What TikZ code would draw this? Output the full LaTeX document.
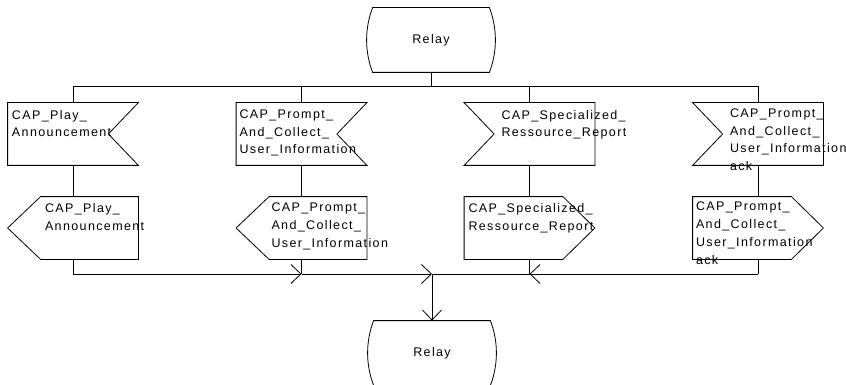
\documentclass[tikz,border=0pt]{standalone}
\usepackage{fontspec}
\setmainfont{Liberation Sans}[LetterSpace=11]
\usetikzlibrary{arrows.meta,calc}
\begin{document}
\begin{tikzpicture}[x=1pt,y=-1pt,line width=0.8pt,
  lbl/.style={anchor=north west,inner sep=0pt,align=left,font=\fontsize{12.5}{17.8}\selectfont},
  sigbox/.style={rectangle,draw=none,inner sep=0pt,minimum width=130pt,minimum height=62pt},
  statebox/.style={rectangle,draw=none,inner sep=0pt,minimum width=116pt,minimum height=64pt,font=\fontsize{12.5}{14}\selectfont},
  flow/.style={-{Straight Barb[length=10pt,width=19pt,line width=0.8pt]}}]
\useasboundingbox (0,0) rectangle (846,385);

% states
\node[statebox] (s1) at (431,40) {Relay};
\node[statebox] (s2) at (432,353) {Relay};
\foreach \s in {s1,s2}{
  \draw (\s.north west) -- (\s.north east)
    .. controls ($(\s.north east)+(8,21)$) and ($(\s.south east)+(8,-21)$) .. (\s.south east)
    -- (\s.south west)
    .. controls ($(\s.south west)+(-8,-21)$) and ($(\s.north west)+(-8,21)$) .. (\s.north west) -- cycle;
}

% signal boxes
\node[sigbox] (in1) at (73,134) {};
\node[sigbox] (in2) at (301.5,134) {};
\node[sigbox] (in3) at (529.5,134) {};
\node[sigbox] (in4) at (758,134) {};
\node[sigbox] (out1) at (73,228) {};
\node[sigbox] (out2) at (301.5,228) {};
\node[sigbox] (out3) at (529.5,228) {};
\node[sigbox] (out4) at (758,228) {};

% input signals, notch on right
\foreach \b in {in1,in2}{
  \draw (\b.north west) -- (\b.north east) -- ($(\b.east)+(-30,0)$) -- (\b.south east) -- (\b.south west) -- cycle;
}
% input signals, notch on left
\foreach \b in {in3,in4}{
  \draw (\b.north west) -- (\b.north east) -- (\b.south east) -- (\b.south west) -- ($(\b.west)+(30,0)$) -- cycle;
}
% output signals pointing left
\foreach \b in {out1,out2}{
  \draw ($(\b.north west)+(33,0)$) -- (\b.north east) -- (\b.south east) -- ($(\b.south west)+(33,0)$) -- (\b.west) -- cycle;
}
% output signals pointing right
\foreach \b in {out3,out4}{
  \draw (\b.north west) -- ($(\b.north east)+(-32,0)$) -- (\b.east) -- ($(\b.south east)+(-32,0)$) -- (\b.south west) -- cycle;
}

% texts
\node[lbl] (tin1) at ($(in1.north west)+(4,7)$) {CAP\_Play\_\\Announcement};
\node[lbl] (tin2) at ($(in2.north west)+(3,6.5)$) {CAP\_Prompt\_\\And\_Collect\_\\User\_Information};
\node[lbl] (tin3) at ($(in3.north west)+(37,7)$) {CAP\_Specialized\_\\Ressource\_Report};
\node[lbl] (tin4) at ($(in4.north west)+(37,5.5)$) {CAP\_Prompt\_\\And\_Collect\_\\User\_Information\\ack};
\node[lbl] (tout1) at ($(out1.north west)+(37,6.5)$) {CAP\_Play\_\\Announcement};
\node[lbl] (tout2) at ($(out2.north west)+(35,6)$) {CAP\_Prompt\_\\And\_Collect\_\\User\_Information};
\node[lbl] (tout3) at ($(out3.north west)+(4,6.5)$) {CAP\_Specialized\_\\Ressource\_Report};
\node[lbl] (tout4) at ($(out4.north west)+(3,5)$) {CAP\_Prompt\_\\And\_Collect\_\\User\_Information\\ack};

% top bus
\coordinate (bt) at (431,86);
\draw (s1.south) -- (bt);
\draw (in1.north |- bt) -- (in4.north |- bt);
\foreach \b in {in1,in2,in3,in4}{
  \draw (\b.north |- bt) -- (\b.north);
}
% between input and output
\foreach \i in {1,2,3,4}{
  \draw (in\i.south) -- (out\i.north);
}

% bottom merge
\coordinate (bb) at (432,274);
\draw (out1.south) -- (out1.south |- bb);
\draw[flow] (out1.south |- bb) -- (out2.south |- bb);
\draw (out2.south) -- (out2.south |- bb);
\draw[flow] (out2.south |- bb) -- (bb);
\draw (out4.south) -- (out4.south |- bb);
\draw[flow] (out4.south |- bb) -- (out3.south |- bb);
\draw (out3.south) -- (out3.south |- bb);
\draw (out3.south |- bb) -- (bb);
\draw[flow] (bb) -- (s2.north);
\end{tikzpicture}
\end{document}
